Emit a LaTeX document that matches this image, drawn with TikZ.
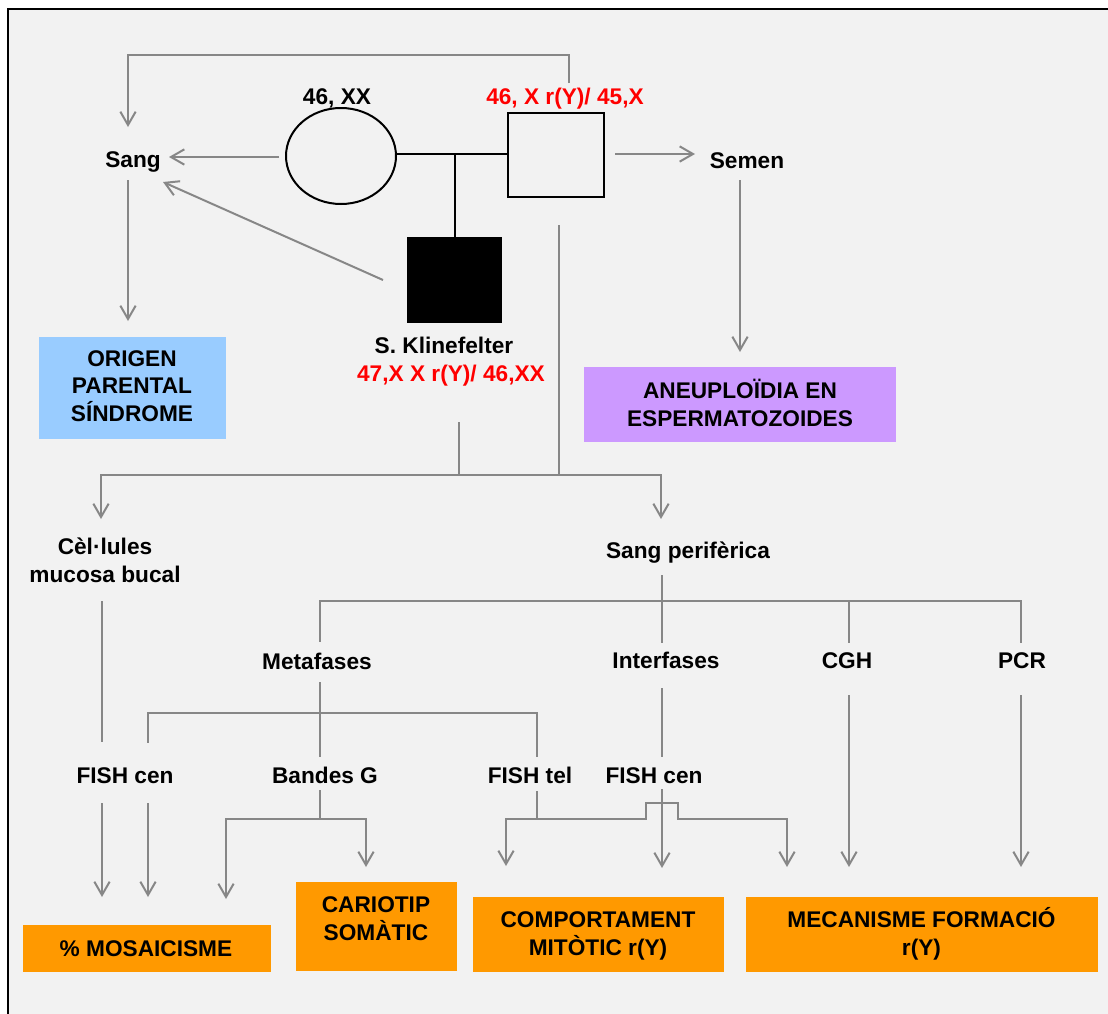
\documentclass[tikz,border=0pt]{standalone}
\usepackage{fontspec}
\setmainfont{Liberation Sans}
\usetikzlibrary{arrows.meta,shapes.geometric,calc}
\definecolor{bg}{HTML}{F2F2F2}
\definecolor{lgray}{HTML}{878787}
\definecolor{bluebox}{HTML}{99CCFF}
\definecolor{purplebox}{HTML}{CC99FF}
\definecolor{orangebox}{HTML}{FF9900}
\definecolor{redtxt}{HTML}{FF0000}
\begin{document}
\begin{tikzpicture}[x=0.75pt,y=-0.75pt,
  lbl/.style={font=\bfseries\fontsize{17}{20.5}\selectfont, inner sep=0pt, anchor=base, align=center},
  rlbl/.style={lbl, text=redtxt},
  conn/.style={draw=lgray, line width=1.5pt},
  arr/.style={conn, -{Straight Barb[length=10pt,width=11.5pt]}},
  ped/.style={draw=black, line width=1.5pt, inner sep=0pt},
  boxbg/.style={inner sep=0pt, draw=none, anchor=north west}]
\useasboundingbox (0,0) rectangle (1108,1014);
\fill[white] (0,0) rectangle (1108,1014);
\draw[line width=1.5pt, fill=bg] (7.5,9) rectangle (1130,1040);

% ---------- boxes ----------
\node[boxbg, fill=bluebox, minimum width=187*0.75pt, minimum height=102*0.75pt] (origbox) at (39,337) {};
\node[boxbg, fill=purplebox, minimum width=312*0.75pt, minimum height=75*0.75pt] (aneubox) at (584,367) {};
\node[boxbg, fill=orangebox, minimum width=248*0.75pt, minimum height=47*0.75pt] (mosbox) at (23,925) {};
\node[boxbg, fill=orangebox, minimum width=161*0.75pt, minimum height=89*0.75pt] (carbox) at (296,882) {};
\node[boxbg, fill=orangebox, minimum width=251*0.75pt, minimum height=75*0.75pt] (combox) at (473,897) {};
\node[boxbg, fill=orangebox, minimum width=352*0.75pt, minimum height=75*0.75pt] (mecbox) at (746,897) {};

% ---------- pedigree ----------
\node[ped, ellipse, minimum width=110*0.75pt, minimum height=96*0.75pt] (mother) at (341,156) {};
\node[ped, rectangle, minimum width=96*0.75pt, minimum height=84*0.75pt] (father) at (556,155) {};
\node[fill=black, inner sep=0pt, minimum width=95*0.75pt, minimum height=86*0.75pt] (son) at (454.5,280) {};
\coordinate (mate) at (455,154);
\draw[ped] (mother.east |- mate) -- (father.west |- mate);
\draw[ped] (mate) -- (son.north -| mate);

% ---------- labels ----------
\node[lbl] (xx) at (337,104) {46, XX};
\node[rlbl] (fgen) at (565,104) {46, X r(Y)/ 45,X};
\node[lbl] (sang) at (133,167) {Sang};
\node[lbl] (semen) at (747,168) {Semen};
\node[lbl] (kline) at (444,353) {S. Klinefelter};
\node[rlbl] (kgen) at (451,381) {47,X X r(Y)/ 46,XX};
\node[lbl] (orig) at (132,421) {ORIGEN\\PARENTAL\\SÍNDROME};
\node[lbl] (aneu) at (740,426) {ANEUPLOÏDIA EN\\ESPERMATOZOIDES};
\node[lbl] (cel) at (105,582) {Cèl·lules\\mucosa bucal};
\node[lbl] (sper) at (688,558) {Sang perifèrica};
\node[lbl] (meta) at (317,669) {Metafases};
\node[lbl] (inter) at (666,668) {Interfases};
\node[lbl] (cgh) at (847,668) {CGH};
\node[lbl] (pcr) at (1022,668) {PCR};
\node[lbl] (fcenA) at (125,783) {FISH cen};
\node[lbl] (bandg) at (325,783) {Bandes G};
\node[lbl] (ftel) at (530,783) {FISH tel};
\node[lbl] (fcenB) at (654,783) {FISH cen};
\node[lbl] (mos) at (146,956) {\% MOSAICISME};
\node[lbl] (car) at (376,940) {CARIOTIP\\SOMÀTIC};
\node[lbl] (com) at (598,955) {COMPORTAMENT\\MITÒTIC r(Y)};
\node[lbl] (mec) at (921.5,955) {MECANISME FORMACIÓ\\r(Y)};

% ---------- connectors: top ----------
\coordinate (fgtop) at (569,83);
\coordinate (topbar) at (350,55);
\coordinate (sangN) at (128,127);
\draw[arr] (fgtop) |- (topbar) -| (sangN);
\coordinate (motherW) at (279,157);
\coordinate (sangE) at (169,157);
\draw[arr] (motherW) -- (sangE);
\coordinate (sonW) at (383,280);
\coordinate (sangSE) at (163,182);
\draw[arr] (sonW) -- (sangSE);
\coordinate (sangS) at (128,180);
\coordinate (origN) at (128,321);
\draw[arr] (sangS) -- (origN);
\coordinate (fatherE) at (615,154);
\coordinate (semenW) at (695,154);
\draw[arr] (fatherE) -- (semenW);
\coordinate (semenS) at (740,180);
\coordinate (aneuN) at (740,352);
\draw[arr] (semenS) -- (aneuN);

% ---------- connectors: to samples ----------
\coordinate (klS) at (459,422);
\coordinate (faS) at (559,225);
\coordinate (barA) at (459,475);
\coordinate (celN) at (101,519);
\coordinate (sperN) at (661,519);
\draw[conn] (klS) -- (barA);
\draw[conn] (faS) -- (faS |- barA);
\draw[arr] (barA) -| (celN);
\draw[arr] (barA) -| (sperN);

% ---------- sang periferica tree ----------
\coordinate (sperS) at (662,575);
\coordinate (interN) at (662,643);
\coordinate (barB) at (662,601);
\coordinate (metaN) at (320,642);
\coordinate (cghN) at (849,643);
\coordinate (pcrN) at (1021,643);
\draw[conn] (sperS) -- (interN);
\draw[conn] (barB) -| (metaN);
\draw[conn] (barB) -| (cghN);
\draw[conn] (barB) -| (pcrN);

% mucosa line
\coordinate (celS) at (102,601);
\coordinate (fcenAN) at (102,742);
\draw[conn] (celS) -- (fcenAN);

% metafases tree
\coordinate (metaS) at (320,682);
\coordinate (bandgN) at (320,757);
\coordinate (barC) at (320,713);
\coordinate (fcenAN2) at (148,743);
\coordinate (ftelN) at (537,757);
\draw[conn] (metaS) -- (bandgN);
\draw[conn] (barC) -| (fcenAN2);
\draw[conn] (barC) -| (ftelN);

% interfases
\coordinate (interS) at (662,688);
\coordinate (fcenBN) at (662,757);
\draw[conn] (interS) -- (fcenBN);

% CGH, PCR
\coordinate (cghS) at (849,695);
\coordinate (cghT) at (849,867);
\coordinate (pcrS) at (1021,695);
\coordinate (pcrT) at (1021,867);
\draw[arr] (cghS) -- (cghT);
\draw[arr] (pcrS) -- (pcrT);

% FISH cen (mucosa / metafases)
\coordinate (fA1) at (102,803);
\coordinate (fA1T) at (102,897);
\coordinate (fA2) at (148,803);
\coordinate (fA2T) at (148,897);
\draw[arr] (fA1) -- (fA1T);
\draw[arr] (fA2) -- (fA2T);

% Bandes G
\coordinate (bgS) at (320,790);
\coordinate (barD) at (320,819);
\coordinate (bgL) at (226,899);
\coordinate (bgR) at (366,867);
\draw[conn] (bgS) -- (barD);
\draw[arr] (barD) -| (bgL);
\draw[arr] (barD) -| (bgR);

% FISH tel
\coordinate (ftS) at (537,791);
\coordinate (barE) at (537,819);
\coordinate (ftL) at (506,866);
\coordinate (ftR) at (787,867);
\draw[conn] (ftS) -- (barE);
\draw[arr] (barE) -| (ftL);
\draw[arr] (barE) -- (646,819) -- (646,803) -- (678,803) -- (678,819) -| (ftR);

% FISH cen (interfases)
\coordinate (fBS) at (662,789);
\coordinate (fBT) at (662,868);
\draw[arr] (fBS) -- (fBT);
\end{tikzpicture}
\end{document}
